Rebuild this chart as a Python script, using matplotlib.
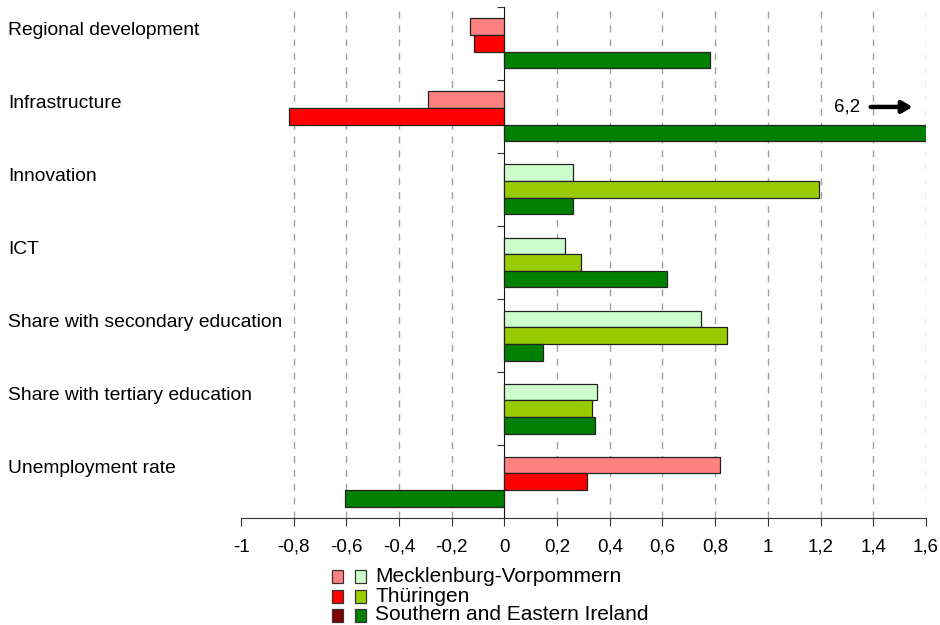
import numpy as np
import matplotlib.pyplot as plt
from matplotlib.patches import Rectangle
from matplotlib.ticker import FuncFormatter
from matplotlib.transforms import blended_transform_factory

plt.rcParams["font.family"] = ["Liberation Sans", "DejaVu Sans"]

categories = [
    "Regional development",
    "Infrastructure",
    "Innovation",
    "ICT",
    "Share with secondary education",
    "Share with tertiary education",
    "Unemployment rate",
]
regions = ["Mecklenburg-Vorpommern", "Thüringen", "Southern and Eastern Ireland"]

mecklenburg = [-0.13, -0.29, 0.26, 0.23, 0.745, 0.35, 0.82]
thueringen = [-0.117, -0.817, 1.196, 0.29, 0.845, 0.332, 0.315]
ireland = [0.78, 6.2, 0.262, 0.617, 0.146, 0.345, -0.607]

# categories where a high value is bad get the red palette
negative_cats = ["Regional development", "Infrastructure", "Unemployment rate"]

red_colors = ["#FF8080", "#FF0000", "#800000"]
green_colors = ["#CCFFCC", "#99CC00", "#008000"]


def fmt(v, pos):
    s = "%g" % round(v, 1)
    if s == "-0":
        s = "0"
    return s.replace(".", ",")


def main():
    fig = plt.figure(figsize=(9.4, 6.25), dpi=100)
    ax = fig.add_axes([0.2564, 0.171, 0.7286, 0.818])

    n = len(categories)
    y = np.arange(n)
    h = 0.228
    series = [mecklenburg, thueringen, ireland]
    for k, vals in enumerate(series):
        for i, cat in enumerate(categories):
            if k == 2:
                color = "#008000"
            elif cat in negative_cats:
                color = red_colors[k]
            else:
                color = green_colors[k]
            ax.barh(y[i] + (k - 1) * h, vals[i], height=h, color=color,
                    edgecolor="#222222", linewidth=0.9, zorder=3)

    ax.set_xlim(-1, 1.6)
    ax.set_ylim(n - 0.5, -0.5)
    ax.set_xticks(np.arange(-1, 1.61, 0.2))
    ax.xaxis.set_major_formatter(FuncFormatter(fmt))
    ax.tick_params(axis="x", direction="out", length=6, labelsize=13.5,
                   pad=9, color="#333333")

    ax.set_yticks(np.arange(-0.5, n, 1.0))
    ax.set_yticklabels([])
    ax.tick_params(axis="y", direction="out", length=5, color="#333333")

    ax.spines["left"].set_position(("data", 0))
    ax.spines["top"].set_visible(False)
    ax.spines["right"].set_visible(False)
    ax.spines["bottom"].set_color("#333333")
    ax.spines["left"].set_color("#111111")

    for xv in np.arange(-0.8, 1.61, 0.2):
        if abs(xv) > 1e-6:
            ax.axvline(xv, color="#A0A0A0", linestyle=(0, (5, 5)),
                       linewidth=1, zorder=1)

    # category labels, left aligned at the figure edge
    trans = blended_transform_factory(fig.transFigure, ax.transData)
    for i, cat in enumerate(categories):
        ax.text(0.009, y[i] - h + 0.05, cat, transform=trans,
                fontsize=13.9, va="center", ha="left")

    # off-scale marker for the Irish infrastructure bar
    ax.annotate("", xy=(1.56, 0.87), xytext=(1.38, 0.87),
                arrowprops=dict(arrowstyle="-|>,head_width=0.35,head_length=0.6",
                                color="black", lw=3.2), zorder=5)
    ax.text(1.35, 0.87, "6,2", ha="right", va="center", fontsize=13.5, zorder=5)

    # legend: one red and one green swatch per region
    row_y = [576, 596, 615]
    for k in range(3):
        yc = 1 - row_y[k] / 625
        for x0, c in ((332, red_colors[k]), (355, green_colors[k])):
            fig.patches.append(Rectangle((x0 / 940, yc - 6.5 / 625), 11 / 940, 13 / 625,
                                         facecolor=c, edgecolor="#333333", lw=0.9,
                                         transform=fig.transFigure))
        fig.text(375 / 940, yc, regions[k], fontsize=15, va="center", ha="left")

    fig.savefig("out.png", dpi=100)


if __name__ == "__main__":
    main()
